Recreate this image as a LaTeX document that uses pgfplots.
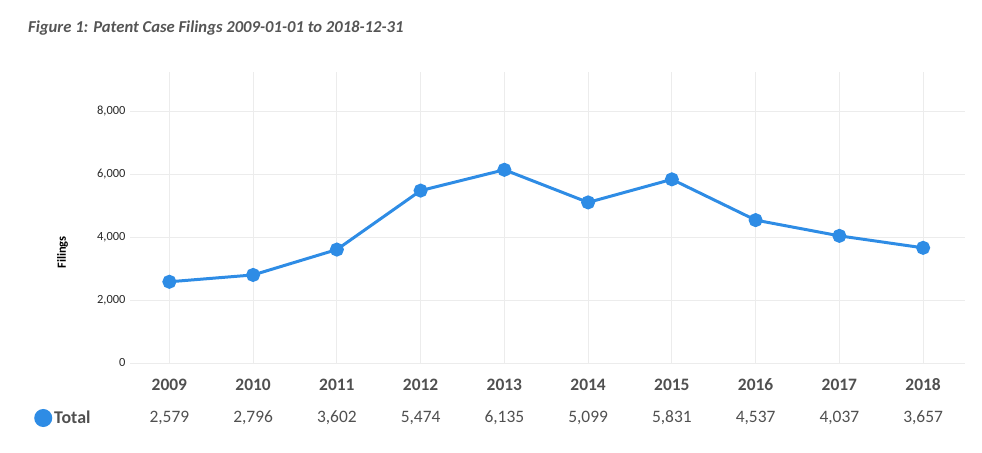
\documentclass[border=0pt]{standalone}
\usepackage{fontspec}
\setmainfont{Carlito}
\usepackage{pgfplots}
\pgfplotsset{compat=1.18}
\definecolor{lineblue}{RGB}{46,140,229}
\definecolor{gridgray}{RGB}{236,236,236}
\definecolor{titlegray}{RGB}{85,85,85}
\definecolor{labgray}{RGB}{80,80,80}
\definecolor{tickdark}{RGB}{40,40,40}
\newcommand{\yr}[2]{\rule{0pt}{13bp}\textbf{#1}\\[12bp]#2}
\begin{document}
\begin{tikzpicture}
\useasboundingbox (0,0) rectangle (982bp,453bp);
\node[anchor=west, font=\fontsize{16.7}{18}\selectfont\bfseries\itshape, text=titlegray, inner sep=0pt] at (28bp,425bp) {Figure 1: Patent Case Filings 2009-01-01 to 2018-12-31};
\begin{axis}[
  at={(130bp,90bp)}, anchor=south west,
  scale only axis, width=835bp, height=291bp,
  xmin=-0.47, xmax=9.5, ymin=0, ymax=9240,
  axis line style={draw=none},
  tick style={draw=none},
  xtick={0,...,9},
  xticklabels={
    {\yr{2009}{2,579}},
    {\yr{2010}{2,796}},
    {\yr{2011}{3,602}},
    {\yr{2012}{5,474}},
    {\yr{2013}{6,135}},
    {\yr{2014}{5,099}},
    {\yr{2015}{5,831}},
    {\yr{2016}{4,537}},
    {\yr{2017}{4,037}},
    {\yr{2018}{3,657}}},
  xticklabel style={align=center, font=\fontsize{17.5}{20}\selectfont, text=labgray, anchor=north, yshift=-11bp},
  ytick={0,2000,4000,6000,8000},
  yticklabel style={font=\fontsize{12.5}{14}\selectfont, text=tickdark, xshift=-1bp},
  /pgf/number format/.cd, 1000 sep={,}, assume math mode=true, /pgfplots/.cd,
  grid=major,
  major grid style={gridgray, line width=0.8bp},
  ylabel={\textbf{Filings}},
  ylabel style={font=\fontsize{12.5}{14}\selectfont, text=black, at={(axis description cs:-0.07,0.38)}, anchor=south},
  legend style={at={(axis description cs:-0.1185,-0.189)}, anchor=west, draw=none, fill=none,
    font=\fontsize{18}{20}\selectfont\bfseries, text=labgray,
    /tikz/every even column/.style={column sep=0pt}},
  legend image code/.code={\fill[lineblue] (0bp,0bp) circle (7.5bp);},
]
\addplot[lineblue, line width=3bp, mark=*, mark size=5.5bp, mark options={solid, fill=lineblue, draw=none}]
  coordinates {(0,2579) (1,2796) (2,3602) (3,5474) (4,6135) (5,5099) (6,5831) (7,4537) (8,4037) (9,3657)};
\addlegendentry{Total}
\end{axis}
\end{tikzpicture}
\end{document}
